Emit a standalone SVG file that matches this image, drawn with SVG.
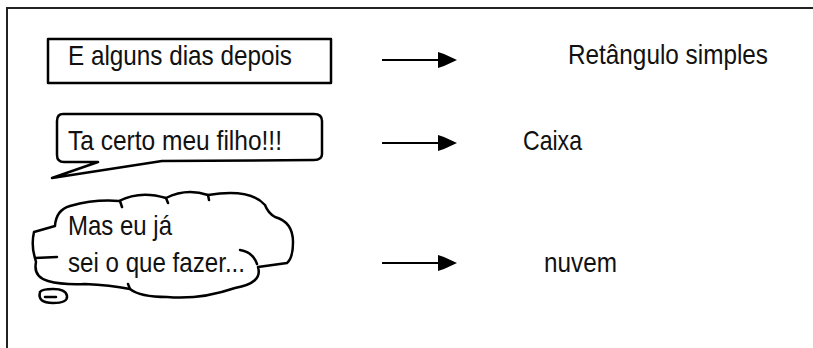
<svg xmlns="http://www.w3.org/2000/svg" width="813" height="348" viewBox="0 0 813 348">
<style>
  .lbl { font-family: "Liberation Sans", Arial, sans-serif; font-size: 28px; fill: #111; }
  .shape { fill: #fff; stroke: #000; stroke-width: 2.5; stroke-linejoin: round; }
  .detail { fill: none; stroke: #000; stroke-width: 2.5; stroke-linecap: round; }
  .conn { stroke: #000; stroke-width: 2; fill: none; }
  .head { fill: #000; }
  .frame { stroke: #222; stroke-width: 2; fill: none; }
</style>
<defs>
  <polygon id="ah" class="head" points="0,-8 6,-6 19,0 6,6 0,8"/>
</defs>
<rect width="813" height="348" fill="#fff"/>
<path class="frame" d="M7,348 V8 H813"/>

<g id="node-retangulo">
  <rect class="shape" x="48" y="39" width="283" height="44"/>
  <text class="lbl" x="68" y="65" textLength="224" lengthAdjust="spacingAndGlyphs">E alguns dias depois</text>
</g>

<g id="node-caixa">
  <path class="shape" d="M63,114 H314 Q322,114 322,121 V154 Q322,160 314,160 L162,161 L52,178 L98,162 L64,162 Q57,162 57,155 V121 Q57,114 63,114 Z"/>
  <text class="lbl" x="68" y="150" textLength="214" lengthAdjust="spacingAndGlyphs">Ta certo meu filho!!!</text>
</g>

<g id="node-nuvem">
  <path class="shape" d="M34,232 L55,226 Q56,210 70,206 Q95,199 119,201 Q140,190 166,198 Q186,188 208,195 Q250,188 265,205 Q268,213 275,217 Q293,222 293,242 Q293,258 287,263 L258,267 Q263,283 235,288 Q200,300 167,297 Q140,297 130,289 Q110,285 85,284 Q62,285 48,281 Q33,277 36,262 L35,258 Q31,245 34,232 Z"/>
  <path class="detail" d="M35,258 L57,257 M240,250 Q253,252 257,264 M120,201 L122,207 M166,198 L168,203 M208,195 L209,200 M130,289 L128,284"/>
  <path class="shape" d="M40,292 Q37,303 53,303 Q68,303 67,296 Q66,289 53,289 Q42,289 40,292 Z"/>
  <path class="detail" d="M45,297 L56,297"/>
  <text class="lbl" x="68" y="235" textLength="104" lengthAdjust="spacingAndGlyphs">Mas eu já</text>
  <text class="lbl" x="68" y="272" textLength="177" lengthAdjust="spacingAndGlyphs">sei o que fazer...</text>
</g>

<g id="node-label-retangulo">
  <text class="lbl" x="568" y="64" textLength="200" lengthAdjust="spacingAndGlyphs">Retângulo simples</text>
</g>
<g id="node-label-caixa">
  <text class="lbl" x="523" y="150" textLength="59" lengthAdjust="spacingAndGlyphs">Caixa</text>
</g>
<g id="node-label-nuvem">
  <text class="lbl" x="544" y="272" textLength="73" lengthAdjust="spacingAndGlyphs">nuvem</text>
</g>

<g id="connectors">
  <line class="conn" x1="382" y1="60" x2="440" y2="60"/>
  <use href="#ah" x="438" y="60"/>
  <line class="conn" x1="382" y1="143" x2="440" y2="143"/>
  <use href="#ah" x="438" y="143"/>
  <line class="conn" x1="382" y1="263" x2="440" y2="263"/>
  <use href="#ah" x="438" y="263"/>
</g>
</svg>
